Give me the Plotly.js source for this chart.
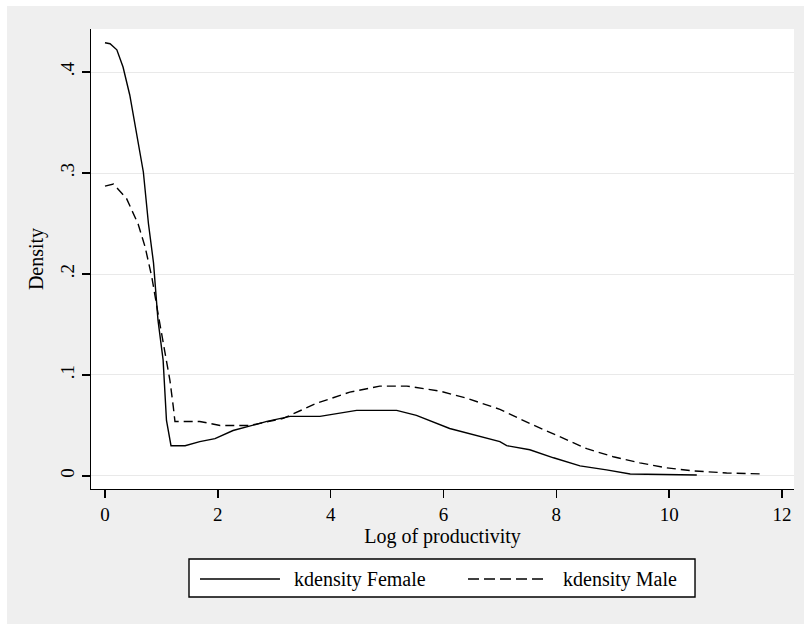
<!DOCTYPE html>
<html>
<head>
<meta charset="utf-8">
<script src="https://cdn.plot.ly/plotly-3.0.1.min.js"></script>
<style>
  html, body { margin: 0; padding: 0; background: #ffffff; }
  #chart { position: absolute; left: 7px; top: 6px; width: 797px; height: 618px; }
</style>
</head>
<body>
<div id="chart"></div>
<script>
// ---- data ----
const femaleX = [0, 0.09, 0.21, 0.32, 0.44, 0.56, 0.68, 0.77, 0.86, 0.94, 1.03, 1.09, 1.17, 1.42, 1.68, 1.95, 2.27, 2.87, 3.28, 3.81, 4.17, 4.46, 5.17, 5.52, 6.11, 6.59, 7.0, 7.12, 7.53, 7.95, 8.42, 8.89, 9.31, 10.49];
const femaleY = [0.429, 0.428, 0.422, 0.405, 0.377, 0.341, 0.301, 0.250, 0.211, 0.154, 0.115, 0.055, 0.030, 0.030, 0.034, 0.037, 0.045, 0.054, 0.059, 0.059, 0.062, 0.065, 0.065, 0.060, 0.047, 0.040, 0.034, 0.030, 0.026, 0.018, 0.010, 0.006, 0.002, 0.001];
const maleX = [0, 0.15, 0.38, 0.53, 0.59, 0.71, 0.83, 0.94, 1.06, 1.15, 1.21, 1.24, 1.33, 1.68, 2.04, 2.57, 3.16, 3.75, 4.34, 4.87, 5.35, 5.94, 6.41, 7.0, 7.53, 8.06, 8.54, 9.01, 9.48, 9.96, 10.43, 11.02, 11.64];
const maleY = [0.287, 0.289, 0.275, 0.257, 0.249, 0.227, 0.197, 0.161, 0.121, 0.095, 0.069, 0.054, 0.054, 0.054, 0.050, 0.050, 0.057, 0.072, 0.083, 0.089, 0.089, 0.084, 0.077, 0.066, 0.052, 0.039, 0.027, 0.019, 0.013, 0.008, 0.005, 0.003, 0.002];
const seriesNames = ["kdensity Female", "kdensity Male"];
const xTickVals = [0, 2, 4, 6, 8, 10, 12];
const xTickText = ["0", "2", "4", "6", "8", "10", "12"];
const yTickVals = [0, 0.1, 0.2, 0.3, 0.4];
const yTickText = ["0", ".1", ".2", ".3", ".4"];
const xTitle = "Log of productivity";
const yTitle = "Density";

const FONT = "Liberation Serif, Times New Roman, serif";

const traces = [
  { x: femaleX, y: femaleY, name: seriesNames[0], type: "scatter", mode: "lines",
    line: { color: "#000000", width: 1.4 } },
  { x: maleX, y: maleY, name: seriesNames[1], type: "scatter", mode: "lines",
    line: { color: "#000000", width: 1.4, dash: "9px,5px" } }
];

// custom legend (Stata style) in paper coordinates
const lgY = -0.1957;
const shapes = [
  { type: "rect", xref: "paper", yref: "paper", x0: 0.1394, x1: 0.8592, y0: -0.2348, y1: -0.1522,
    line: { color: "#000000", width: 1.4 }, fillcolor: "#ffffff", layer: "above" },
  { type: "line", xref: "paper", yref: "paper", x0: 0.155, x1: 0.2688, y0: lgY, y1: lgY,
    line: { color: "#000000", width: 1.4 } },
  { type: "line", xref: "paper", yref: "paper", x0: 0.5363, x1: 0.6501, y0: lgY, y1: lgY,
    line: { color: "#000000", width: 1.4, dash: "11px,5px" } }
];
const annotations = [
  { xref: "paper", yref: "paper", x: 0.2859, y: lgY, xanchor: "left", yanchor: "middle",
    text: seriesNames[0], showarrow: false, font: { family: FONT, size: 20, color: "#000" } },
  { xref: "paper", yref: "paper", x: 0.6686, y: lgY, xanchor: "left", yanchor: "middle",
    text: seriesNames[1], showarrow: false, font: { family: FONT, size: 20, color: "#000" } }
];

const layout = {
  width: 797, height: 618,
  margin: { l: 84, r: 10, t: 23, b: 135 },
  paper_bgcolor: "#efefef",
  plot_bgcolor: "#ffffff",
  showlegend: false,
  font: { family: FONT, size: 19, color: "#000000" },
  xaxis: {
    range: [-0.248, 12.213],
    tickvals: xTickVals, ticktext: xTickText,
    ticks: "outside", ticklen: 8, tickwidth: 1.4, tickcolor: "#000",
    showline: true, linecolor: "#000", linewidth: 1.4,
    showgrid: false, zeroline: false,
    tickfont: { family: FONT, size: 19 },
    title: { text: xTitle, font: { family: FONT, size: 20 }, standoff: 0 }
  },
  yaxis: {
    range: [-0.0129, 0.4426],
    tickvals: yTickVals, ticktext: yTickText,
    tickangle: -90,
    ticks: "outside", ticklen: 8, tickwidth: 1.4, tickcolor: "#000",
    showline: true, linecolor: "#000", linewidth: 1.4,
    showgrid: true, gridcolor: "#e9e9e9", gridwidth: 1,
    zeroline: false,
    tickfont: { family: FONT, size: 19 },
    title: { text: yTitle, font: { family: FONT, size: 20 }, standoff: 8 }
  },
  shapes: shapes,
  annotations: annotations
};

Plotly.newPlot("chart", traces, layout, { displayModeBar: false, staticPlot: true });
</script>
</body>
</html>
